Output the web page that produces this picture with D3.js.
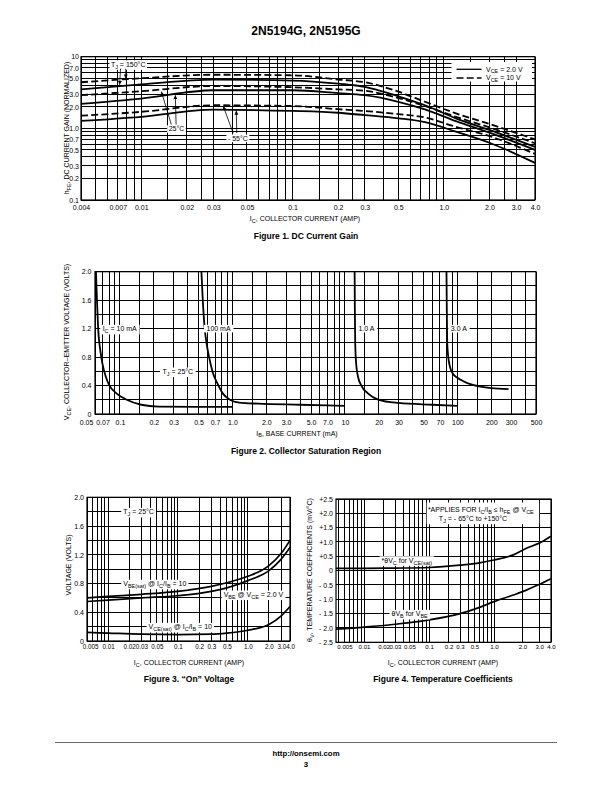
<!DOCTYPE html>
<html><head><meta charset="utf-8">
<script src="https://cdn.jsdelivr.net/npm/d3@7"></script>
<style>
body{margin:0;background:#fff}
text{font-family:"Liberation Sans Narrow","Arial Narrow","Liberation Sans",Arial,sans-serif;fill:#000}
text.b{font-family:"Liberation Sans",Arial,Helvetica,sans-serif;font-weight:bold}
</style></head><body>
<svg id="c" width="612" height="792" xmlns="http://www.w3.org/2000/svg"></svg>
<script>
// ---------------- DATA ----------------
// Figure 1: DC current gain (normalized) vs IC (A)
const fig1Current = [0.004, 0.01, 0.03, 0.1, 0.2, 0.3, 0.5, 0.75, 1.2, 2.0, 4.0];
const hfe150_10V  = [4.4, 5.0, 5.6, 5.5, 4.8, 4.4, 3.25, 2.35, 1.62, 1.15, 0.70];
const hfe150_2V   = [3.5, 4.1, 4.8, 4.65, 4.2, 3.8, 2.8, 2.1, 1.38, 0.95, 0.55];
const hfe25_10V   = [2.9, 3.3, 3.9, 3.75, 3.5, 3.35, 2.65, 2.05, 1.45, 1.03, 0.62];
const hfe25_2V    = [2.2, 2.6, 3.4, 3.4, 3.1, 2.9, 2.35, 1.84, 1.26, 0.87, 0.50];
const hfeM55_10V  = [1.5, 1.7, 2.1, 2.05, 1.85, 1.75, 1.58, 1.42, 1.05, 0.78, 0.44];
const hfeM55_2V   = [1.27, 1.45, 1.82, 1.75, 1.65, 1.53, 1.38, 1.22, 0.90, 0.63, 0.33];
const fig1XTicks  = [0.004, 0.007, 0.01, 0.02, 0.03, 0.05, 0.1, 0.2, 0.3, 0.5, 1.0, 2.0, 3.0, 4.0];
const fig1XLabels = ["0.004","0.007","0.01","0.02","0.03","0.05","0.1","0.2","0.3","0.5","1.0","2.0","3.0","4.0"];
const fig1YTicks  = [0.1, 0.2, 0.3, 0.5, 0.7, 1.0, 2.0, 3.0, 5.0, 7.0, 10];
const fig1YLabels = ["0.1","0.2","0.3","0.5","0.7","1.0","2.0","3.0","5.0","7.0","10"];

// Figure 2: collector saturation region, VCE (V) vs IB (mA)
const ib10mA   = [0.0612, 0.0625, 0.064, 0.0668, 0.07, 0.075, 0.08, 0.093, 0.115, 0.155, 0.22, 0.5, 1.0];
const vce10mA  = [2.0, 1.6, 1.2, 0.9, 0.7, 0.52, 0.41, 0.29, 0.2, 0.13, 0.105, 0.10, 0.10];
const ib100mA  = [0.53, 0.545, 0.567, 0.595, 0.62, 0.67, 0.74, 0.82, 0.95, 1.15, 1.7, 4.0, 10];
const vce100mA = [2.0, 1.6, 1.2, 0.95, 0.8, 0.58, 0.42, 0.29, 0.2, 0.16, 0.145, 0.13, 0.115];
const ib1A     = [12.2, 12.25, 12.35, 12.6, 13.1, 14.0, 16, 20, 30, 60, 100];
const vce1A    = [2.0, 1.5, 1.0, 0.7, 0.52, 0.4, 0.29, 0.2, 0.155, 0.13, 0.115];
const ib3A     = [80, 80.5, 81.2, 83, 86, 91, 100, 107, 120, 137, 200, 285];
const vce3A    = [2.0, 1.5, 1.0, 0.8, 0.66, 0.57, 0.51, 0.48, 0.44, 0.41, 0.365, 0.35];
const fig2XTicks  = [0.05,0.07,0.1,0.2,0.3,0.5,0.7,1,2,3,5,7,10,20,30,50,70,100,200,300,500];
const fig2XLabels = ["0.05","0.07","0.1","0.2","0.3","0.5","0.7","1.0","2.0","3.0","5.0","7.0","10","20","30","50","70","100","200","300","500"];
const fig2YTicks  = [0, 0.4, 0.8, 1.2, 1.6, 2.0];
const fig2YLabels = ["0","0.4","0.8","1.2","1.6","2.0"];

// Figure 3: "On" voltage vs IC (A)
const fig3Current = [0.005, 0.01, 0.03, 0.1, 0.3, 0.5, 1.0, 2.0, 3.0, 4.0];
const vbeSat      = [0.60, 0.62, 0.65, 0.69, 0.76, 0.81, 0.90, 1.05, 1.22, 1.40];
const vbeOn       = [0.55, 0.57, 0.60, 0.63, 0.69, 0.74, 0.84, 0.98, 1.14, 1.30];
const vceSat      = [0.12, 0.11, 0.095, 0.09, 0.095, 0.11, 0.15, 0.23, 0.35, 0.48];
const fig34XTicks  = [0.005,0.01,0.02,0.03,0.05,0.1,0.2,0.3,0.5,1.0,2.0,3.0,4.0];
const fig34XLabels = ["0.005","0.01","0.02","0.03","0.05","0.1","0.2","0.3","0.5","1.0","2.0","3.0","4.0"];
const fig3YTicks  = [0, 0.4, 0.8, 1.2, 1.6, 2.0];
const fig3YLabels = ["0","0.4","0.8","1.2","1.6","2.0"];

// Figure 4: temperature coefficients (mV/°C) vs IC (A)
const fig4Current = [0.0037, 0.01, 0.03, 0.1, 0.3, 0.6, 1.0, 1.6, 2.2, 3.0, 4.0];
const thetaVC     = [0.08, 0.08, 0.09, 0.11, 0.19, 0.27, 0.37, 0.55, 0.78, 0.96, 1.2];
const thetaVB     = [-2.04, -1.97, -1.87, -1.72, -1.5, -1.28, -1.08, -0.85, -0.68, -0.48, -0.28];
const fig4YTicks  = [2.5, 2.0, 1.5, 1.0, 0.5, 0, -0.5, -1.0, -1.5, -2.0, -2.5];
const fig4YLabels = ["+2.5","+2.0","+1.5","+1.0","+0.5","0","- 0.5","- 1.0","- 1.5","- 2.0","- 2.5"];

// ---------------- HELPERS ----------------
const svg = d3.select('#c');
svg.append('defs').append('marker').attr('id','ah').attr('viewBox','0 0 6 6')
  .attr('refX',6).attr('refY',3).attr('markerWidth',4.5).attr('markerHeight',4)
  .attr('markerUnits','userSpaceOnUse').attr('orient','auto')
  .append('path').attr('d','M0,0L6,3L0,6Z').attr('fill','#000');

function gridVals(dom, mults){
  const a=dom[0], b=dom[dom.length-1];
  const lo=Math.floor(Math.log10(a)), hi=Math.ceil(Math.log10(b)), out=[];
  for(let e=lo;e<=hi;e++) for(const m of mults){
    const v=+(m*Math.pow(10,e)).toPrecision(6);
    if(v>=a*0.9999 && v<=b*1.0001) out.push(v);
  }
  return out;
}
function linVals(a,b,step){const out=[];for(let v=a;v<=b+1e-9;v+=step) out.push(+v.toFixed(4));return out;}

function rich(t, s, fs){
  const re=/_\{([^}]*)\}/g; let last=0, m, sh=false; const d=fs*0.28;
  while((m=re.exec(s))){
    if(m.index>last){ t.append('tspan').attr('dy', sh?-d:0).text(s.slice(last,m.index)); sh=false; }
    t.append('tspan').attr('dy', sh?0:d).attr('font-size', fs*0.78).text(m[1]); sh=true;
    last=re.lastIndex;
  }
  if(last<s.length) t.append('tspan').attr('dy', sh?-d:0).text(s.slice(last));
  return t;
}
function label(x, y, s, o={}){
  const fs=o.fs||7, anchor=o.anchor||'start';
  const g=svg.append('g');
  const t=g.append('text').attr('x',x).attr('y',y+fs*0.36).attr('font-size',fs).attr('text-anchor',anchor);
  if(o.cls) t.attr('class',o.cls);
  rich(t,s,fs);
  if(o.box){
    const b=t.node().getBBox(), p=o.pad==null?1.5:o.pad;
    g.insert('rect','text').attr('x',b.x-p).attr('y',b.y-0.3).attr('width',b.width+2*p)
      .attr('height',b.height+0.6).attr('fill','#fff');
  }
  return g;
}
function vlabel(x, y, s, fs=7){
  const t=svg.append('text').attr('transform',`translate(${x+fs*0.36},${y}) rotate(-90)`)
    .attr('font-size',fs).attr('text-anchor','middle');
  rich(t,s,fs);
}
function panel(x, y, xg, yg){
  const g=svg.append('g'); const xr=x.range(), yr=y.range();
  const xl=xr[0], xrr=xr[xr.length-1], yb=yr[0], yt=yr[yr.length-1];
  g.append('g').selectAll('line').data(xg).join('line')
    .attr('x1',d=>x(d)).attr('x2',d=>x(d)).attr('y1',yb).attr('y2',yt);
  g.append('g').selectAll('line').data(yg).join('line')
    .attr('y1',d=>y(d)).attr('y2',d=>y(d)).attr('x1',xl).attr('x2',xrr);
  g.selectAll('line').attr('stroke','#000').attr('stroke-width',1).attr('shape-rendering','crispEdges');
  g.append('rect').attr('x',xl).attr('y',yt).attr('width',xrr-xl).attr('height',yb-yt)
    .attr('fill','none').attr('stroke','#000').attr('stroke-width',1.2);
  return {xl,xrr,yb,yt};
}
function axes(x, y, f, xT, xL, yT, yL, xpad, ypad, xfs=7){
  const gx=svg.append('g').attr('transform',`translate(0,${f.yb})`)
    .call(d3.axisBottom(x).tickValues(xT).tickFormat((d,i)=>xL[i]).tickSize(0).tickPadding(xpad));
  gx.select('.domain').remove(); gx.attr('font-size',xfs);
  const gy=svg.append('g').attr('transform',`translate(${f.xl},0)`)
    .call(d3.axisLeft(y).tickValues(yT).tickFormat((d,i)=>yL[i]).tickSize(0).tickPadding(ypad));
  gy.select('.domain').remove(); gy.attr('font-size',7);
  return gx;
}
function curve(x, y, xs, ys, dash, w=1.8){
  svg.append('path').datum(d3.zip(xs,ys))
    .attr('d', d3.line().x(d=>x(d[0])).y(d=>y(d[1])).curve(d3.curveMonotoneX))
    .attr('fill','none').attr('stroke','#000').attr('stroke-width',w)
    .attr('stroke-dasharray', dash?'7,3.2':null);
}
function arrow(x, y, a){
  svg.append('line').attr('x1',x(a[0])).attr('y1',y(a[1])).attr('x2',x(a[2])).attr('y2',y(a[3]))
    .attr('stroke','#000').attr('stroke-width',0.8).attr('marker-end','url(#ah)');
}

// ---------------- HEADER / FOOTER ----------------
svg.append('text').attr('class','b').attr('x',306).attr('y',35).attr('font-size',12)
  .attr('text-anchor','middle').text('2N5194G, 2N5195G');
svg.append('line').attr('x1',55).attr('x2',557).attr('y1',742.5).attr('y2',742.5)
  .attr('stroke','#000').attr('stroke-width',0.6);
svg.append('text').attr('class','b').attr('x',306).attr('y',755.5).attr('font-size',7.8)
  .attr('text-anchor','middle').text('http://onsemi.com');
svg.append('text').attr('class','b').attr('x',306).attr('y',767).attr('font-size',7.8)
  .attr('text-anchor','middle').text('3');

// ---------------- FIGURE 1 ----------------
{
  const x=d3.scaleLog().domain([0.004,4]).range([81,535]);
  const y=d3.scaleLog().domain([0.1,10]).range([200,56.7]);
  const f=panel(x,y,gridVals(x.domain(),[1,1.5,2,2.5,3,4,5,6,7,8,9]),gridVals(y.domain(),[1,2,3,4,5,6,7,8,9]));
  axes(x,y,f,fig1XTicks,fig1XLabels,fig1YTicks,fig1YLabels,4.8,2);
  [[hfe150_10V,1],[hfe150_2V,0],[hfe25_10V,1],[hfe25_2V,0],[hfeM55_10V,1],[hfeM55_2V,0]]
    .forEach(([ys,dash])=>curve(x,y,fig1Current,ys,dash,1.8));
  // legend
  svg.append('rect').attr('x',451.5).attr('y',62).attr('width',80.5).attr('height',19.5).attr('fill','#fff');
  svg.append('line').attr('x1',456.5).attr('x2',481.5).attr('y1',69.3).attr('y2',69.3).attr('stroke','#000').attr('stroke-width',1.3);
  svg.append('line').attr('x1',456.5).attr('x2',481.5).attr('y1',78).attr('y2',78).attr('stroke','#000').attr('stroke-width',1.3).attr('stroke-dasharray','7,3.2');
  label(486,69,'V_{CE} = 2.0 V');
  label(486,77.7,'V_{CE} = 10 V');
  // annotations
  label(x(0.0082),y(7.9),'T_{J} = 150°C',{anchor:'middle',box:true});
  arrow(x,y,[0.0073,6.8,0.0072,4.05]);
  arrow(x,y,[0.0079,6.8,0.0079,4.95]);
  label(x(0.0171),y(0.98),'25°C',{anchor:'middle',box:true});
  arrow(x,y,[0.0158,1.13,0.0136,3.25]);
  arrow(x,y,[0.0170,1.13,0.0168,2.9]);
  label(x(0.0435),y(0.725),'- 55°C',{anchor:'middle',box:true});
  arrow(x,y,[0.0405,0.86,0.0348,2.05]);
  arrow(x,y,[0.0428,0.86,0.0425,1.76]);
  // titles
  label(305,218.3,'I_{C}, COLLECTOR CURRENT (AMP)',{anchor:'middle'});
  vlabel(66.5,128,'h_{FE}, DC CURRENT GAIN (NORMALIZED)');
  label(306,236,'Figure 1. DC Current Gain',{anchor:'middle',fs:8.5,cls:'b'});
}

// ---------------- FIGURE 2 ----------------
{
  const x=d3.scaleLog().domain([0.06,500]).range([95,536]);
  const y=d3.scaleLinear().domain([0,2]).range([414,271.7]);
  const f=panel(x,y,gridVals(x.domain(),[1,1.5,2,3,4,5,6,7,8,9]),linVals(0,2,0.2));
  axes(x,y,f,fig2XTicks,fig2XLabels,fig2YTicks,fig2YLabels,5.8,3.5);
  [[ib10mA,vce10mA],[ib100mA,vce100mA],[ib1A,vce1A],[ib3A,vce3A]].forEach(([xs,ys])=>curve(x,y,xs,ys,0,1.8));
  label(x(0.0702),y(1.2),'I_{C} = 10 mA',{box:true,pad:2.5});
  label(x(0.588),y(1.2),'100 mA',{box:true,pad:2.5});
  label(x(13.2),y(1.2),'1.0 A',{box:true,pad:2.5});
  label(x(87.5),y(1.2),'3.0 A',{box:true,pad:2.5});
  label(x(0.239),y(0.6),'T_{J} = 25°C',{box:true,pad:2.5});
  label(297,433,'I_{B}, BASE CURRENT (mA)',{anchor:'middle'});
  vlabel(66.5,342,'V_{CE}, COLLECTOR–EMITTER VOLTAGE (VOLTS)');
  label(306,451,'Figure 2. Collector Saturation Region',{anchor:'middle',fs:8.5,cls:'b'});
}

// ---------------- FIGURE 3 ----------------
{
  const x=d3.scaleLog().domain([0.005,4]).range([87,290]);
  const y=d3.scaleLinear().domain([0,2]).range([641,497.3]);
  const f=panel(x,y,gridVals(x.domain(),[1,2,3,4,5,6,7,8,9]),linVals(0,2,0.2));
  const gx=axes(x,y,f,fig34XTicks,fig34XLabels,fig3YTicks,fig3YLabels,3.2,3,6.3);
  gx.selectAll('.tick text').filter((d,i)=>i===0).attr('x',3);
  curve(x,y,fig3Current,vbeSat,0,1.7);
  curve(x,y,fig3Current,vbeOn,0,1.7);
  curve(x,y,fig3Current,vceSat,0,1.7);
  label(x(0.0165),y(1.8),'T_{J} = 25°C',{box:true,pad:2});
  label(x(0.0165),y(0.8),'V_{BE(sat)} @ I_{C}/I_{B} = 10',{box:true,pad:2});
  label(x(0.45),y(0.65),'V_{BE} @ V_{CE} = 2.0 V',{box:true,pad:2});
  label(x(0.038),y(0.2),'V_{CE(sat)} @ I_{C}/I_{B} = 10',{box:true,pad:2});
  label(189,662.7,'I_{C}, COLLECTOR CURRENT (AMP)',{anchor:'middle'});
  vlabel(68,565,'VOLTAGE (VOLTS)');
  label(189,678.5,'Figure 3. “On” Voltage',{anchor:'middle',fs:8.5,cls:'b'});
}

// ---------------- FIGURE 4 ----------------
{
  const x=d3.scaleLog().domain([0.0037,1,4]).range([336,494,551]);
  const y=d3.scaleLinear().domain([-2.5,2.5]).range([642.3,499]);
  const f=panel(x,y,gridVals([0.004,4],[1,2,3,4,5,6,7,8,9]),linVals(-2.5,2.5,0.5));
  axes(x,y,f,fig34XTicks,fig34XLabels,fig4YTicks,fig4YLabels,2.5,3,6.1);
  curve(x,y,fig4Current,thetaVC,0,1.7);
  curve(x,y,fig4Current,thetaVB,0,1.7);
  // note box
  svg.append('rect').attr('x',x(0.092)).attr('y',y(2.38)).attr('width',x(3.0)-x(0.092)).attr('height',y(1.62)-y(2.38)).attr('fill','#fff');
  label(x(0.096),y(2.15),'*APPLIES FOR I_{C}/I_{B} ≤ h_{FE} @ V_{CE}');
  label(x(0.475),y(1.83),'T_{J} = - 65°C to +150°C',{anchor:'middle'});
  label(x(0.0186),y(0.37),'*θV_{C} for V_{CE(sat)}',{box:true,pad:2});
  label(x(0.0265),y(-1.5),'θV_{B} for V_{BE}',{box:true,pad:2});
  label(443,662.7,'I_{C}, COLLECTOR CURRENT (AMP)',{anchor:'middle'});
  vlabel(309.5,570,'θ_{V}, TEMPERATURE COEFFICIENTS (mV/°C)');
  label(443,678.5,'Figure 4. Temperature Coefficients',{anchor:'middle',fs:8.5,cls:'b'});
}
</script>
</body></html>
